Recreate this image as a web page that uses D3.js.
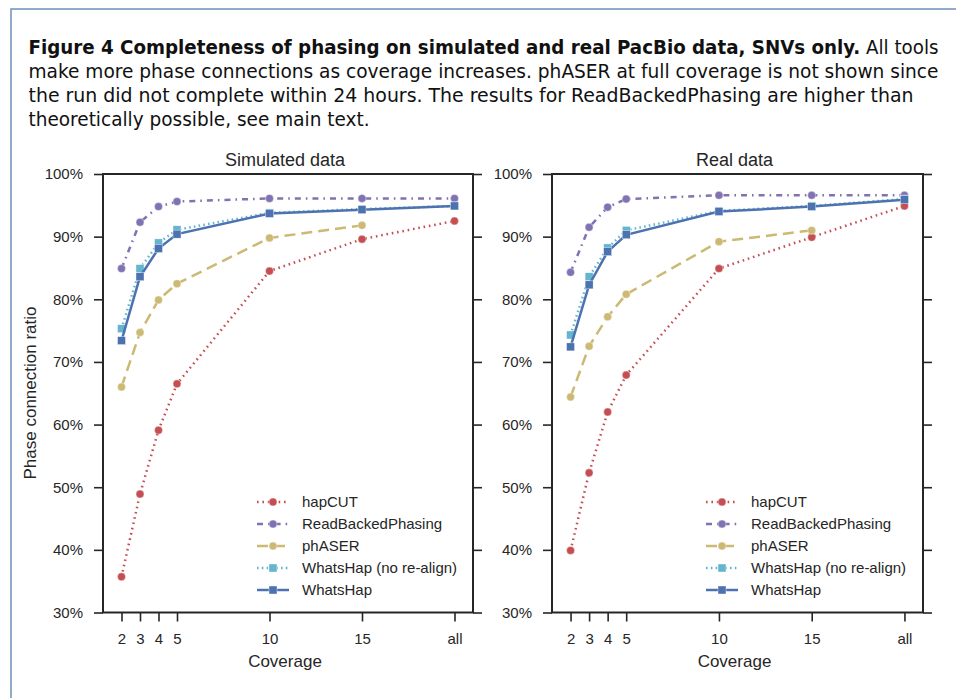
<!DOCTYPE html>
<html><head><meta charset="utf-8">
<script src="https://cdn.jsdelivr.net/npm/d3@7"></script>
<style>
html,body{margin:0;padding:0;background:#fff;}
svg text{font-family:"Liberation Sans",Arial,Helvetica,sans-serif;}
.cap{font-family:"Liberation Sans Narrow","DejaVu Sans Condensed","Liberation Sans",sans-serif !important;font-size:20px;fill:#111;}
</style></head>
<body>
<svg id="chart" width="956" height="698"></svg>
<script>
// ---------- data ----------
const coverageTicks = [2, 3, 4, 5, 10, 15, 20];
const coverageLabels = ["2", "3", "4", "5", "10", "15", "all"];
const yTicks = [30, 40, 50, 60, 70, 80, 90, 100];
const panelTitles = ["Simulated data", "Real data"];
const tools = ["hapCUT", "ReadBackedPhasing", "phASER", "WhatsHap (no re-align)", "WhatsHap"];

// Simulated data (percent), coverage 2,3,4,5,10,15,all
const simHapCUT    = [35.7, 48.9, 59.1, 66.5, 84.5, 89.6, 92.5];
const simRBP       = [84.9, 92.3, 94.8, 95.6, 96.1, 96.1, 96.1];
const simPhASER    = [66.0, 74.7, 79.9, 82.5, 89.8, 91.8];
const simWHnoRealn = [75.3, 84.9, 89.0, 91.1, 93.8, 94.4, 94.9];
const simWH        = [73.4, 83.6, 88.1, 90.4, 93.7, 94.3, 94.9];

// Real data (percent)
const realHapCUT    = [39.9, 52.3, 62.0, 67.9, 84.9, 89.9, 94.9];
const realRBP       = [84.3, 91.5, 94.7, 96.0, 96.6, 96.6, 96.6];
const realPhASER    = [64.4, 72.5, 77.2, 80.8, 89.2, 91.0];
const realWHnoRealn = [74.3, 83.6, 88.2, 91.0, 94.1, 94.9, 96.0];
const realWH        = [72.4, 82.3, 87.6, 90.3, 94.0, 94.8, 95.9];

const panelData = [
  [simHapCUT, simRBP, simPhASER, simWHnoRealn, simWH],
  [realHapCUT, realRBP, realPhASER, realWHnoRealn, realWH]
];

// ---------- styles ----------
const colors = ["#C44E52", "#8172B2", "#CCB974", "#64B5CD", "#4C72B0"];
const dashes = ["1.6,3.8", "6,5,1.6,5", "11,6", "1.6,3.2", null];
const markers = ["circle", "circle", "circle", "square", "square"];
const ink = "#262626";

const svg = d3.select("#chart");

// frame
svg.append("rect").attr("x", 11).attr("y", 9).attr("width", 960).attr("height", 720)
  .attr("fill", "none").attr("stroke", "#7090bb").attr("stroke-width", 1.5);

// caption
const t1 = svg.append("text").attr("class", "cap").attr("x", 28.5).attr("y", 53.5)
  .attr("textLength", 910).attr("lengthAdjust", "spacingAndGlyphs");
t1.append("tspan").attr("font-weight", "bold")
  .text("Figure 4  Completeness of phasing on simulated and real PacBio data, SNVs only.");
t1.append("tspan").text(" All tools");

const capLines = [
  {t: "make more phase connections as coverage increases. phASER at full coverage is not shown since", y: 77.5, w: 910},
  {t: "the run did not complete within 24 hours. The results for ReadBackedPhasing are higher than", y: 101.5, w: 885},
  {t: "theoretically possible, see main text.", y: 125.5, w: 341}
];
capLines.forEach(l => {
  svg.append("text").attr("class", "cap").attr("x", 28.5).attr("y", l.y)
    .attr("textLength", l.w).attr("lengthAdjust", "spacingAndGlyphs").text(l.t);
});

// y label
svg.append("text").attr("transform", "translate(36,393) rotate(-90)")
  .attr("text-anchor", "middle").attr("font-size", 17).attr("fill", ink)
  .text("Phase connection ratio");

const panels = [{x0: 103, x1: 473}, {x0: 552, x1: 923}];
const y = d3.scaleLinear().domain([30, 100]).range([612.5, 174]);

panels.forEach((p, pi) => {
  const x = d3.scaleLinear().domain([1, 21]).range([p.x0, p.x1]);
  const g = svg.append("g");

  // axes
  const yl = g.append("g").attr("transform", `translate(${p.x0},0)`)
    .call(d3.axisLeft(y).tickValues(yTicks).tickFormat(d => d + "%").tickSize(9).tickSizeOuter(0).tickPadding(11));
  const yr = g.append("g").attr("transform", `translate(${p.x1},0)`)
    .call(d3.axisRight(y).tickValues(yTicks).tickFormat("").tickSize(9).tickSizeOuter(0));
  const xb = g.append("g").attr("transform", `translate(0,${y(30)})`)
    .call(d3.axisBottom(x).tickValues(coverageTicks).tickFormat((d, i) => coverageLabels[i]).tickSize(9).tickSizeOuter(0).tickPadding(12));
  [yl, yr, xb].forEach(a => {
    a.select(".domain").remove();
    a.selectAll(".tick line").attr("stroke", ink).attr("stroke-width", 1.6);
    a.selectAll(".tick text").attr("fill", ink).attr("font-size", 15)
      .attr("font-family", "'Liberation Sans',Arial,sans-serif");
  });

  // spines
  g.append("rect").attr("x", p.x0).attr("y", y(100)).attr("width", p.x1 - p.x0).attr("height", y(30) - y(100))
    .attr("fill", "none").attr("stroke", ink).attr("stroke-width", 2);

  // title & x label
  const cx = (p.x0 + p.x1) / 2;
  g.append("text").attr("x", cx - 3).attr("y", 166).attr("text-anchor", "middle")
    .attr("font-size", 18).attr("fill", ink).text(panelTitles[pi]);
  g.append("text").attr("x", cx - 3).attr("y", 667).attr("text-anchor", "middle")
    .attr("font-size", 17).attr("fill", ink).text("Coverage");

  // series
  const line = d3.line().x((d, i) => x(coverageTicks[i])).y(d => y(d));
  panelData[pi].forEach((vals, si) => {
    const s = g.append("g");
    s.append("path").attr("d", line(vals)).attr("fill", "none")
      .attr("stroke", colors[si]).attr("stroke-width", 2.5)
      .attr("stroke-dasharray", dashes[si]);
    drawMarkers(s, vals.map((v, i) => [x(coverageTicks[i]), y(v)]), si);
  });

  // legend
  const lx = p.x0 + 154;
  tools.forEach((t, si) => {
    const ly = 502 + si * 22;
    const lg = g.append("g");
    lg.append("line").attr("x1", lx).attr("x2", lx + 32).attr("y1", ly).attr("y2", ly)
      .attr("stroke", colors[si]).attr("stroke-width", 2.5).attr("stroke-dasharray", dashes[si]);
    drawMarkers(lg, [[lx + 16, ly]], si);
    lg.append("text").attr("x", lx + 45).attr("y", ly).attr("dy", "0.35em")
      .attr("font-size", 15).attr("fill", ink).text(t);
  });
});

function drawMarkers(sel, pts, si) {
  if (markers[si] === "circle") {
    sel.selectAll(null).data(pts).enter().append("circle")
      .attr("cx", d => d[0]).attr("cy", d => d[1]).attr("r", 4)
      .attr("fill", colors[si]).attr("stroke", "#fff").attr("stroke-width", 0.4);
  } else {
    sel.selectAll(null).data(pts).enter().append("rect")
      .attr("x", d => d[0] - 4).attr("y", d => d[1] - 4).attr("width", 8).attr("height", 8)
      .attr("fill", colors[si]).attr("stroke", "#fff").attr("stroke-width", 0.4);
  }
}
</script>
</body></html>
